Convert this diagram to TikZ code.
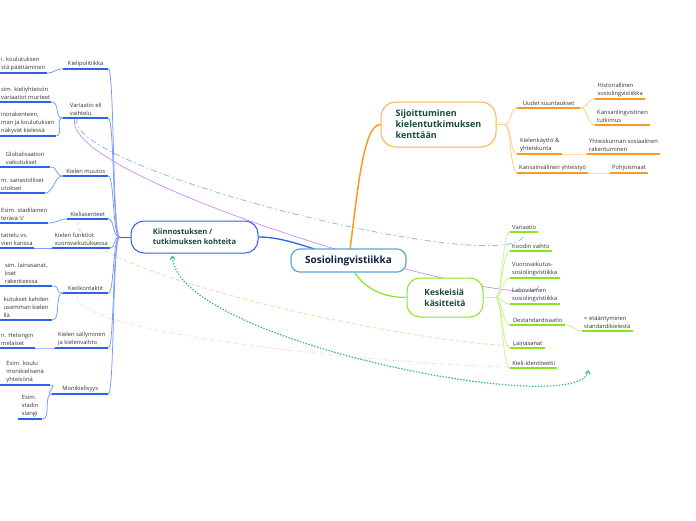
\documentclass[tikz,border=0pt]{standalone}
\usepackage{fontspec}
\setmainfont{Open Sans}
\usetikzlibrary{calc,arrows.meta,backgrounds}

\definecolor{bluebr}{HTML}{3060EE}
\definecolor{bluelt}{HTML}{7D9CF8}
\definecolor{orangebr}{HTML}{FF9A1F}
\definecolor{orangelt}{HTML}{FFCB85}
\definecolor{greenbr}{HTML}{88E620}
\definecolor{greenlt}{HTML}{C8F294}
\definecolor{topictext}{HTML}{1A4A3A}
\definecolor{maintext}{HTML}{0E2148}
\definecolor{leaftext}{HTML}{333333}
\definecolor{mainborder}{HTML}{5DA5DA}
\definecolor{relblue}{HTML}{8DBBEA}
\definecolor{relpurple}{HTML}{C77DF5}
\definecolor{relpeach}{HTML}{FFD0A0}
\definecolor{relpink}{HTML}{FFDCE0}
\definecolor{relgreen}{HTML}{3DBA88}

\tikzset{
  leaf/.style={font=\fontsize{5.8}{8}\selectfont, text=leaftext, align=left,
    inner xsep=2pt, inner ysep=2pt, anchor=south west},
  topic/.style={draw, fill=white, line width=1pt, align=left, text=topictext,
    font=\bfseries\fontsize{8.5}{10.5}\selectfont},
  bul/.style={bluebr, line width=1.2pt},
  oul/.style={orangebr, line width=1.2pt},
  gul/.style={greenbr, line width=1.2pt},
  bcon/.style={bluelt, line width=0.8pt},
  ocon/.style={orangelt, line width=0.8pt},
  gcon/.style={greenlt, line width=0.8pt},
}

\begin{document}
\begin{tikzpicture}[x=1pt,y=-1pt]
\useasboundingbox (0,0) rectangle (696,520);

% centre and topics
\node[topic, draw=mainborder, line width=1.2pt, text=maintext, align=center,
  font=\bfseries\fontsize{10}{12}\selectfont,
  minimum width=115, minimum height=23, rounded corners=9] (sosio) at (348.5,260.5) {Sosiolingvistiikka};
\node[topic, draw=bluebr, minimum width=127, minimum height=32, rounded corners=13,
  font=\bfseries\fontsize{7.6}{10}\selectfont] (kiin) at (194.5,237) {Kiinnostuksen /\\tutkimuksen kohteita};
\node[topic, draw=orangebr!80, minimum width=115, minimum height=45, rounded corners=15,
  font=\bfseries\fontsize{9}{11}\selectfont] (sijo) at (438.5,124.5) {Sijoittuminen\\kielentutkimuksen\\kenttään};
\node[topic, draw=greenbr, minimum width=76, minimum height=39, rounded corners=13,
  font=\bfseries\fontsize{8.5}{11}\selectfont] (kesk) at (445,297.5) {Keskeisiä\\käsitteitä};

% left branches
\node[leaf, minimum width=45] (kpol) at (63,69) {Kielipolitiikka};
\node[leaf, minimum width=45] (vari) at (63,118) {Variaatio eli\\vaihtelu};
\node[leaf, minimum width=45] (kmuu) at (63,176) {Kielen muutos};
\node[leaf, minimum width=41] (kase) at (67,219) {Kieliasenteet};
\node[leaf, minimum width=58] (kfun) at (52,248) {Kielen funktiot\\vuorovaikutuksessa};
\node[leaf, minimum width=45] (kkon) at (63,293) {Kielikontaktit};
\node[leaf, minimum width=53] (ksai) at (55,348) {Kielen säilyminen\\ja kielenvaihto};
\node[leaf, minimum width=56] (moni) at (52,394) {Monikielisyys};

% leaves cut by the left edge
\node[leaf, minimum width=45, inner xsep=1pt] (l1) at (0,73) {i. koulutuksen\\stä päättäminen};
\node[leaf, minimum width=47, inner xsep=1pt] (l2) at (0,102) {sim. kieliyhteisön\\variaatiot murteet};
\node[leaf, minimum width=50, inner xsep=1pt] (l3) at (0,136) {inorakenteen,\\man ja koulutuksen\\näkyvät kielessä};
\node[leaf, minimum width=50, inner xsep=1pt] (l4) at (0,167) {Globalisaation\\vaikutukset};
\node[leaf, minimum width=42, inner xsep=1pt] (l5) at (0,193) {m. sanastolliset\\utokset};
\node[leaf, minimum width=45, inner xsep=1pt] (l6) at (0,223) {Esim. stadilainen\\terävä 's'};
\node[leaf, minimum width=28, inner xsep=1pt] (l7) at (0,248) {tattelu vs.\\vien kanssa};
\node[leaf, minimum width=52, inner xsep=1pt] (l8) at (0,286) {sim. lainasanat,\\kset\\rakenteessa};
\node[leaf, minimum width=52, inner xsep=1pt] (l9) at (0,320) {kutukset kahden\\usemman kielen\\llä};
\node[leaf, minimum width=32, inner xsep=1pt] (l10) at (0,348) {n. Helsingin\\melaiset};
\node[leaf, minimum width=50] (l11) at (0,385) {Esim. koulu\\monikielisenä\\yhteisönä};
\node[leaf, minimum width=24] (l12) at (18,419) {Esim.\\stadin\\slangi};

% orange side
\node[leaf, minimum width=63] (uud) at (517,108) {Uudet suuntaukset};
\node[leaf, minimum width=50] (hist) at (595,99) {Historiallinen\\sosiolingvistiikka};
\node[leaf, minimum width=53] (kans) at (595,125) {Kansanlingvistinen\\tutkimus};
\node[leaf, minimum width=45] (kay) at (517,154) {Kielenkäyttö \&\\yhteiskunta};
\node[leaf, minimum width=69] (yht) at (587,154) {Yhteiskunnan sosiaalinen\\rakentuminen};
\node[leaf, minimum width=70] (kvy) at (517,173) {Kansainvälinen yhteistyö};
\node[leaf, minimum width=37] (pohj) at (610,173) {Pohjoismaat};

% green side
\node[leaf, minimum width=27] (gvar) at (510,232) {Variaatio};
\node[leaf, minimum width=40] (gkoo) at (510,251) {Koodin vaihto};
\node[leaf, minimum width=47] (gvuo) at (510,278) {Vuorovaikutus-\\sosiolingvistiikka};
\node[leaf, minimum width=47] (glab) at (510,304) {Labovilainen\\sosiolingvistiikka};
\node[leaf, minimum width=55] (gdes) at (510,325) {Destandardisaatio};
\node[leaf, minimum width=49] (geta) at (582,331) {= etääntyminen\\standardikielestä};
\node[leaf, minimum width=35] (glai) at (510,348) {Lainasanat};
\node[leaf, minimum width=47] (gkid) at (510,368) {Kieli-identiteetti};

\begin{scope}[on background layer]
  % main branches
  \draw[bluebr, line width=1.3pt] (sosio.center) .. controls (300,244) and (280,237) .. (kiin.east);
  \draw[orangebr, line width=1.5pt] (sosio.center) .. controls (357,200) and (362,124.5) .. (sijo.west);
  \draw[greenbr, line width=1.2pt] (sosio.center) .. controls (360,290) and (385,297.5) .. (kesk.west);

  % relations
  \draw[relblue, line width=0.8pt, dash pattern=on 6pt off 3pt on 1.5pt off 3pt]
    ($(vari.south west)+(14,0)$) .. controls (60,170) and (530,285) .. (gvar.south);
  \draw[relpurple, line width=0.6pt]
    ($(vari.south west)+(12,0)$) .. controls (55,180) and (540,320) .. ($(glab.north)+(4,0)$);
  \draw[relpeach, line width=0.8pt, dash pattern=on 4pt off 3pt]
    ($(kase.south west)+(11,2)$) .. controls (65,280) and (545,370) .. ($(glai.north)+(10,0)$);
  \draw[relpink, line width=0.8pt, dash pattern=on 5pt off 3pt]
    ($(kkon.south west)+(14,2)$) .. controls (70,335) and (400,365) .. ($(gkid.south west)+(0,-1)$);
  \draw[relgreen, line width=1.2pt, dash pattern=on 1.5pt off 1.5pt,
    {Straight Barb[length=3pt,width=5pt]}-{Straight Barb[length=3pt,width=5pt]}]
    ($(kiin.south)+(-22,2)$) .. controls (175,340) and (580,420) .. ($(gkid.south east)+(31,2)$);
\end{scope}

% blue hub
\coordinate (bhub) at ($(kiin.west)+(-11,0)$);
\draw[bluebr, line width=1pt] (kiin.west) -- (bhub);
\foreach \n in {kpol,vari,kmuu,kase,kfun,kkon,ksai,moni}
  \draw[bcon] (bhub) .. controls +(-7,0) and +(6,0) .. (\n.south east);
\foreach \lf/\br in {l1/kpol,l2/vari,l3/vari,l4/kmuu,l5/kmuu,l6/kase,l7/kfun,l8/kkon,l9/kkon,l10/ksai,l11/moni,l12/moni}
  \draw[bcon] (\lf.south east) .. controls +(9,0) and +(-9,0) .. (\br.south west);

% orange hub
\coordinate (ohub) at ($(sijo.east)+(8,0)$);
\draw[ocon] (sijo.east) -- (ohub);
\foreach \n in {uud,kay,kvy}
  \draw[ocon] (ohub) .. controls +(7,0) and +(-7,0) .. (\n.south west);
\foreach \lf/\br in {uud/hist,uud/kans,kay/yht,kvy/pohj}
  \draw[ocon] (\lf.south east) .. controls +(8,0) and +(-8,0) .. (\br.south west);

% green hub
\coordinate (ghub) at ($(kesk.east)+(12,0)$);
\draw[gcon] (kesk.east) -- (ghub);
\foreach \n in {gvar,gkoo,gvuo,glab,gdes,glai,gkid}
  \draw[gcon] (ghub) .. controls +(7,0) and +(-8,0) .. (\n.south west);
\draw[gcon] (gdes.south east) .. controls +(8,0) and +(-8,0) .. (geta.south west);

% underlines
\foreach \n in {kpol,vari,kmuu,kase,kfun,kkon,ksai,moni,l1,l2,l3,l4,l5,l6,l7,l8,l9,l10,l11,l12}
  \draw[bul] (\n.south west) -- (\n.south east);
\foreach \n in {uud,hist,kans,kay,yht,kvy,pohj}
  \draw[oul] (\n.south west) -- (\n.south east);
\foreach \n in {gvar,gkoo,gvuo,glab,gdes,geta,glai,gkid}
  \draw[gul] (\n.south west) -- (\n.south east);
\end{tikzpicture}
\end{document}
